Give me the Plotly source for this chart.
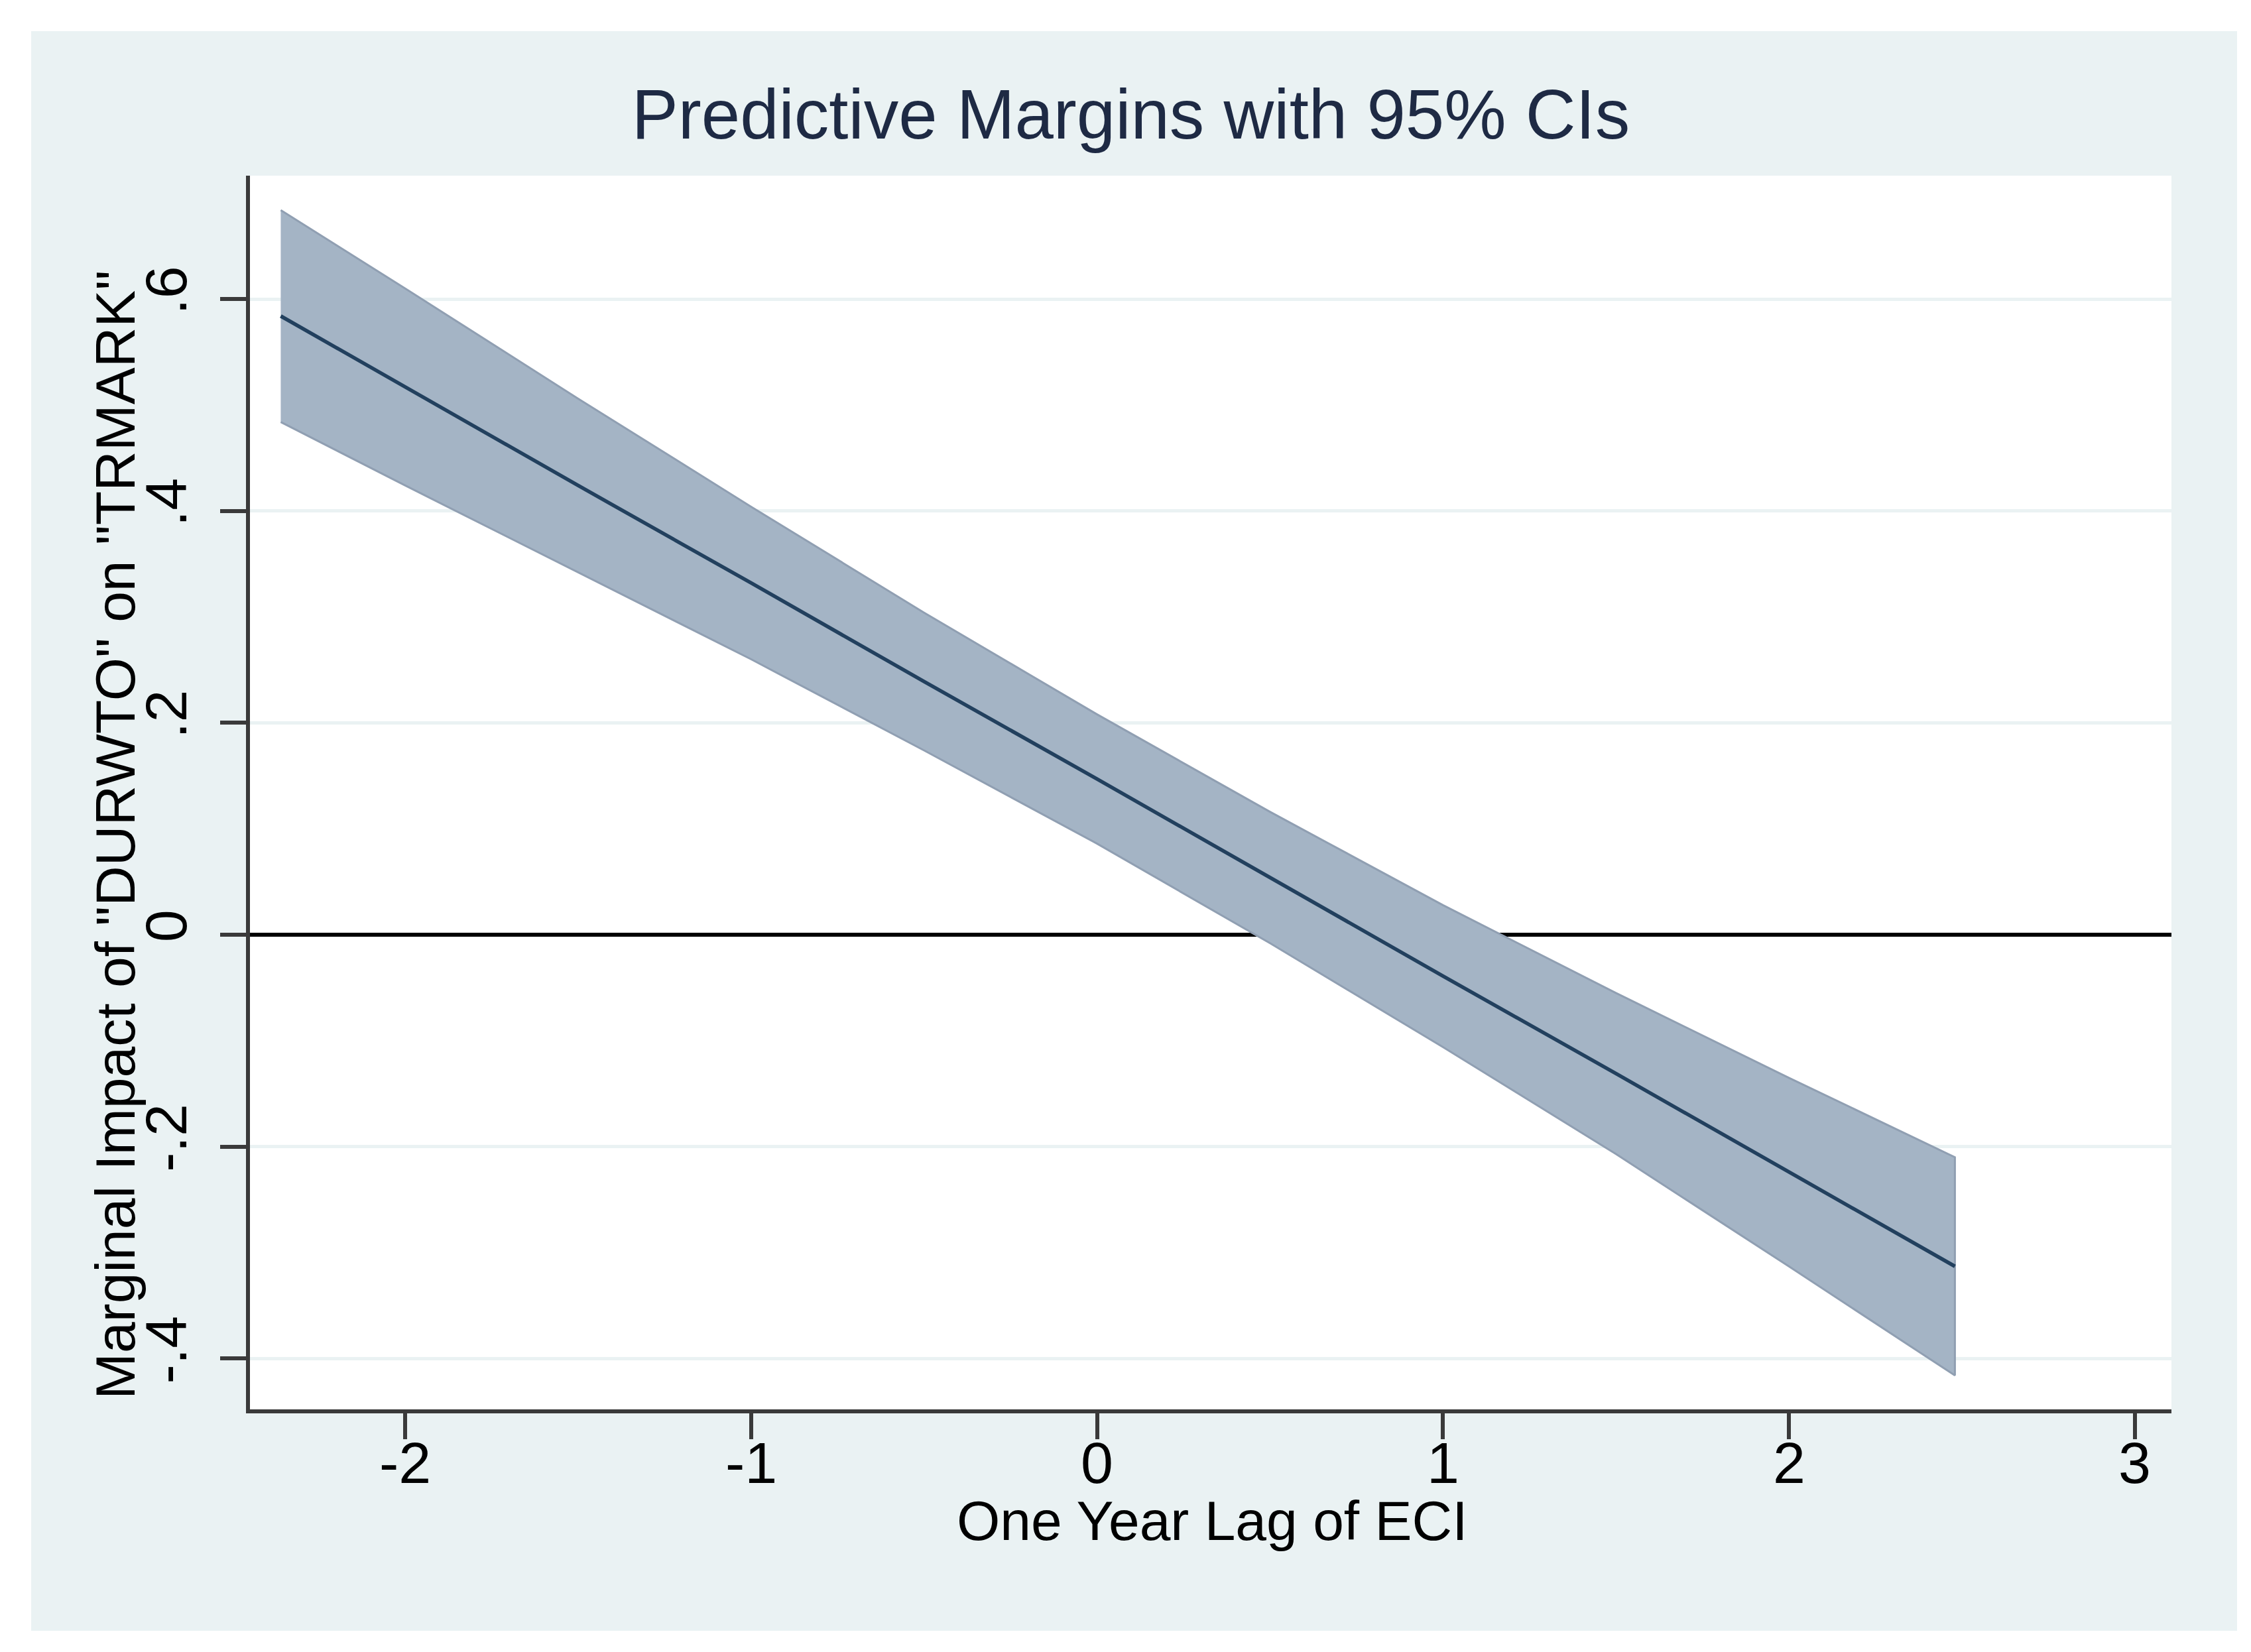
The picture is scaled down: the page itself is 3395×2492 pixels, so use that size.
import plotly.graph_objects as go

# Values
eci_lag = [-2.36, -2.0, -1.5, -1.0, -0.5, 0.0, 0.5, 1.0, 1.5, 2.0, 2.48]
margin = [0.584, 0.517, 0.424, 0.332, 0.239, 0.147, 0.054, -0.039, -0.131, -0.224, -0.313]
ci_upper = [0.684, 0.610, 0.506, 0.404, 0.304, 0.208, 0.116, 0.028, -0.055, -0.135, -0.210]
ci_lower = [0.484, 0.424, 0.342, 0.260, 0.174, 0.086, -0.008, -0.106, -0.207, -0.313, -0.416]

x_ticks = [-2, -1, 0, 1, 2, 3]
x_tick_labels = ["-2", "-1", "0", "1", "2", "3"]
y_ticks = [-0.4, -0.2, 0, 0.2, 0.4, 0.6]
y_tick_labels = ["-.4", "-.2", "0", ".2", ".4", ".6"]

title_text = "Predictive Margins with 95% CIs"
x_title = "One Year Lag of ECI"
y_title = 'Marginal Impact of "DURWTO" on "TRMARK"'

W, H = 3395, 2492
L, R, T, B = 369, 128, 257, 374
plot_w = W - L - R
plot_h = H - T - B

FONT = "Liberation Sans, Arial, sans-serif"
BG = "#EAF2F3"

fig = go.Figure()

# CI band
fig.add_trace(go.Scatter(
    x=eci_lag + eci_lag[::-1],
    y=ci_upper + ci_lower[::-1],
    fill="toself",
    fillcolor="#A4B4C5",
    line=dict(color="#909FB2", width=3),
    mode="lines",
    hoverinfo="skip",
    showlegend=False,
))

# Predictive margin line
fig.add_trace(go.Scatter(
    x=eci_lag,
    y=margin,
    mode="lines",
    line=dict(color="#22405E", width=5.5),
    showlegend=False,
))

# background frame
fig.add_shape(type="rect", xref="paper", yref="paper",
              x0=(39 - L) / plot_w, x1=(3366 - L) / plot_w,
              y0=(H - B - 2452) / plot_h, y1=(H - B - 39) / plot_h,
              fillcolor=BG, line=dict(width=0), layer="below")
fig.add_shape(type="rect", xref="paper", yref="paper",
              x0=0, x1=1, y0=0, y1=1,
              fillcolor="white", line=dict(width=0), layer="below")

fig.update_layout(
    width=W, height=H,
    margin=dict(l=L, r=R, t=T, b=B, pad=0),
    paper_bgcolor="white",
    plot_bgcolor="white",
    font=dict(family=FONT, color="black"),
    title=dict(text=title_text, x=0.5, xref="container", xanchor="center",
               y=1 - 164 / H, yref="container", yanchor="middle",
               font=dict(size=105, color="#1E2A44", family=FONT)),
    showlegend=False,
)

fig.update_xaxes(
    range=[-2.449, 3.106],
    tickmode="array", tickvals=x_ticks, ticktext=x_tick_labels,
    showticklabels=False,
    showgrid=False, zeroline=False,
    showline=True, linecolor="#3a3a3a", linewidth=6,
    ticks="outside", ticklen=39, tickwidth=6, tickcolor="#3a3a3a",
)
fig.update_yaxes(
    range=[-0.448, 0.7165],
    tickmode="array", tickvals=y_ticks, ticktext=y_tick_labels,
    tickangle=-90,
    ticklabelstandoff=16,
    showgrid=True, gridcolor=BG, gridwidth=5,
    zeroline=True, zerolinecolor="black", zerolinewidth=6,
    showline=True, linecolor="#3a3a3a", linewidth=6,
    ticks="outside", ticklen=39, tickwidth=6, tickcolor="#3a3a3a",
    tickfont=dict(size=88, color="black", family=FONT),
)

# x tick labels placed at the axis positions
for v, t in zip(x_ticks, x_tick_labels):
    fig.add_annotation(text=t, xref="x", yref="paper",
                       x=v, y=(H - B - 2198) / plot_h,
                       xanchor="center", yanchor="middle", showarrow=False,
                       font=dict(size=88, color="black", family=FONT))

fig.add_annotation(text=x_title, xref="paper", yref="paper",
                   x=(1820 - L) / plot_w, y=(H - B - 2286) / plot_h,
                   xanchor="center", yanchor="middle", showarrow=False,
                   font=dict(size=84, color="black", family=FONT))
fig.add_annotation(text=y_title, xref="paper", yref="paper",
                   x=(166 - L) / plot_w, y=(H - B - 1252) / plot_h,
                   xanchor="center", yanchor="middle", showarrow=False,
                   textangle=-90,
                   font=dict(size=84, color="black", family=FONT))

fig.write_html("out.html")
